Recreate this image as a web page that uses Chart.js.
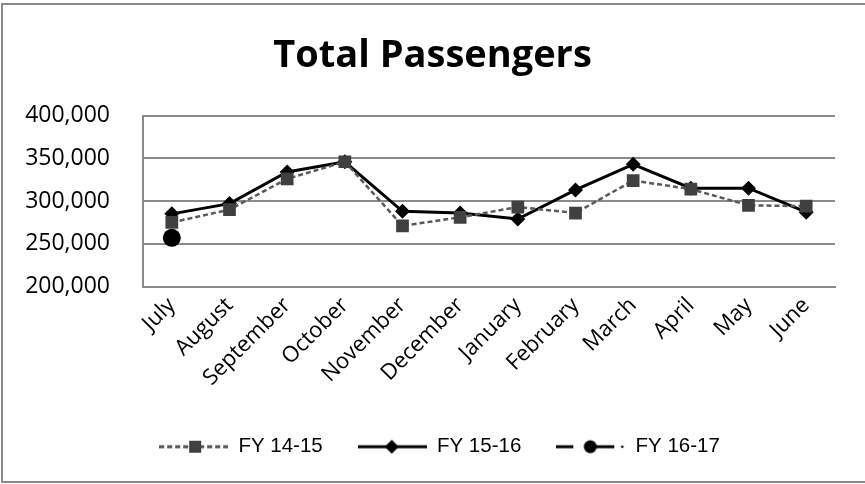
<!DOCTYPE html>
<html>
<head>
<meta charset="utf-8">
<script src="https://cdn.jsdelivr.net/npm/chart.js@4.4.1/dist/chart.umd.min.js"></script>
<style>
  html, body { margin: 0; padding: 0; background: #fff; }
  #wrap { width: 865px; height: 484px; position: relative; }
</style>
</head>
<body>
<div id="wrap"><canvas id="c" width="865" height="484"></canvas></div>
<script>
const months = ['July', 'August', 'September', 'October', 'November', 'December',
                'January', 'February', 'March', 'April', 'May', 'June'];
const fy1415 = [275000, 290000, 326000, 346000, 271000, 281000, 293000, 286000, 324000, 314000, 295000, 294000];
const fy1516 = [285000, 297000, 334000, 346000, 288000, 286000, 279000, 313000, 343000, 315000, 315000, 287000];
const fy1617 = [257000, null, null, null, null, null, null, null, null, null, null, null];
const seriesNames = ['FY 14-15', 'FY 15-16', 'FY 16-17'];
const yTicks = [200000, 250000, 300000, 350000, 400000];

const SAMPLE_W = 69, SAMPLE_H = 22;
function sample(kind) {
  const c = document.createElement('canvas');
  c.width = SAMPLE_W; c.height = SAMPLE_H;
  const g = c.getContext('2d');
  const cy = SAMPLE_H / 2;
  if (kind === 0) {
    g.strokeStyle = '#505050'; g.lineWidth = 2.8; g.setLineDash([5, 3]);
    g.beginPath(); g.moveTo(0, cy); g.lineTo(SAMPLE_W, cy); g.stroke();
    g.fillStyle = '#404040'; g.fillRect(30, cy - 6, 12, 12);
  } else if (kind === 1) {
    g.strokeStyle = '#000'; g.lineWidth = 3;
    g.beginPath(); g.moveTo(0, cy); g.lineTo(SAMPLE_W, cy); g.stroke();
    g.fillStyle = '#000';
    g.beginPath(); g.moveTo(34, cy - 7); g.lineTo(41, cy); g.lineTo(34, cy + 7); g.lineTo(27, cy); g.closePath(); g.fill();
  } else {
    g.strokeStyle = '#000'; g.lineWidth = 3;
    g.beginPath(); g.moveTo(0, cy); g.lineTo(17, cy); g.stroke();
    g.beginPath(); g.moveTo(34, cy); g.lineTo(58, cy); g.stroke();
    g.fillStyle = '#000';
    g.beginPath(); g.arc(34, cy, 6.5, 0, Math.PI * 2); g.fill();
    g.beginPath(); g.arc(66, cy, 1.3, 0, Math.PI * 2); g.fill();
  }
  return c;
}
const samples = [sample(0), sample(1), sample(2)];

const borderPlugin = {
  id: 'outerBorder',
  beforeDraw(chart) {
    const ctx = chart.ctx;
    ctx.save();
    ctx.fillStyle = '#fff';
    ctx.fillRect(0, 0, chart.width, chart.height);
    ctx.strokeStyle = '#8a8a8a';
    ctx.lineWidth = 2;
    ctx.strokeRect(2, 4, 880, 478);
    ctx.restore();
  }
};

// centre title over the full frame and nudge legend row right, as in the original
const boxShift = {
  id: 'boxShift',
  afterLayout(chart) {
    if (chart.titleBlock) { chart.titleBlock.left += 15; chart.titleBlock.right += 15; }
    if (chart.legend) { chart.legend.left += 22; chart.legend.right += 22; }
  }
};

new Chart(document.getElementById('c'), {
  type: 'line',
  data: {
    labels: months,
    datasets: [
      {
        label: seriesNames[0], data: fy1415,
        borderColor: '#595959', borderWidth: 2.5, borderDash: [5, 3],
        pointStyle: 'rect', pointRadius: 9, pointHoverRadius: 9,
        pointBackgroundColor: '#404040', pointBorderColor: '#404040', pointBorderWidth: 0,
        tension: 0
      },
      {
        label: seriesNames[1], data: fy1516,
        borderColor: '#000', borderWidth: 3,
        pointStyle: 'rectRot', pointRadius: 7.5, pointHoverRadius: 7.5,
        pointBackgroundColor: '#000', pointBorderColor: '#000', pointBorderWidth: 0,
        tension: 0
      },
      {
        label: seriesNames[2], data: fy1617,
        borderColor: '#000', borderWidth: 3, borderDash: [14, 4, 2, 4],
        pointStyle: 'circle', pointRadius: 9, pointHoverRadius: 9,
        pointBackgroundColor: '#000', pointBorderColor: '#000', pointBorderWidth: 0,
        tension: 0
      }
    ]
  },
  options: {
    responsive: false,
    animation: false,
    layout: { padding: { left: 0, right: 30, top: 0, bottom: 17 } },
    plugins: {
      title: {
        display: true,
        text: 'Total Passengers',
        color: '#000',
        font: { family: 'Open Sans', size: 38, weight: 'bold', lineHeight: 1.2 },
        padding: { top: 33, bottom: 37 }
      },
      legend: {
        position: 'bottom',
        labels: {
          usePointStyle: true,
          pointStyleWidth: SAMPLE_W,
          padding: 35,
          color: '#000',
          font: { family: 'Liberation Sans', size: 20.5 },
          generateLabels(chart) {
            return chart.data.datasets.map((ds, i) => ({
              text: ds.label,
              pointStyle: samples[i],
              fillStyle: 'rgba(0,0,0,0)',
              strokeStyle: 'rgba(0,0,0,0)',
              lineWidth: 0,
              fontColor: '#000',
              hidden: false,
              datasetIndex: i
            }));
          }
        }
      },
      tooltip: { enabled: false }
    },
    scales: {
      x: {
        offset: true,
        grid: { display: false, drawTicks: false },
        border: { display: true, color: '#8a8a8a', width: 2 },
        ticks: {
          color: '#000',
          font: { family: 'Open Sans', size: 22 },
          minRotation: 45, maxRotation: 45,
          padding: 6,
          autoSkip: false
        },
        afterFit(scale) { scale.height = 115; }
      },
      y: {
        min: 200000, max: 400000,
        afterBuildTicks(scale) { scale.ticks = yTicks.map(v => ({ value: v })); },
        grid: { color: '#8a8a8a', lineWidth: 2, drawTicks: false },
        border: { display: true, color: '#8a8a8a', width: 2 },
        ticks: {
          color: '#000',
          font: { family: 'Open Sans', size: 23 },
          padding: 33,
          callback: v => v.toLocaleString('en-US')
        },
        afterFit(scale) { scale.width = 143; }
      }
    }
  },
  plugins: [borderPlugin, boxShift]
});
</script>
</body>
</html>
